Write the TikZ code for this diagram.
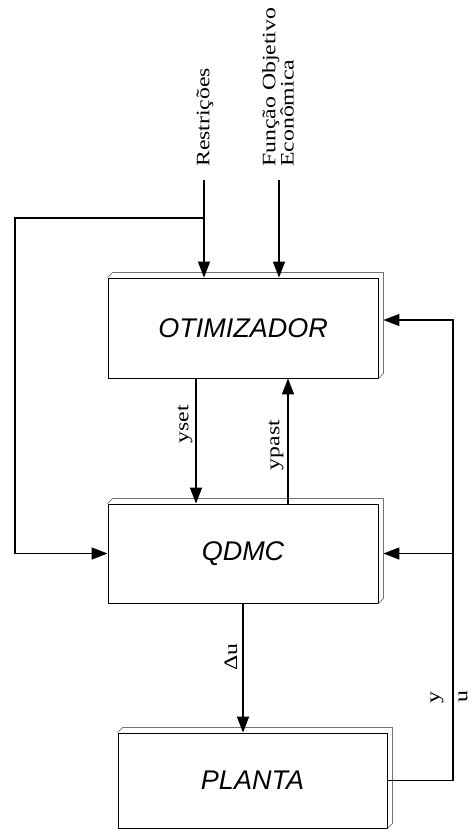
\documentclass[tikz,border=0pt]{standalone}
\usepackage{fontspec}
\setmainfont{Liberation Serif}
\newfontfamily\boxfont{Liberation Sans}
\usetikzlibrary{arrows.meta}

\begin{document}
\begin{tikzpicture}[x=1pt,y=-1pt,>={Triangle[length=16pt,width=12pt]},
    block/.style={draw,line width=0.9pt,inner sep=0,font=\boxfont\itshape\fontsize{27}{30}\selectfont},
    edge3d/.style={draw=black!55,line width=0.8pt},
    flow/.style={line width=1.6pt},
    lbl/.style={rotate=90,xscale=1.25,inner sep=0,font=\fontsize{19}{15}\selectfont}]
    \useasboundingbox (0,0) rectangle (473,832);
    % blocos
    \node[block,minimum width=270pt,minimum height=100pt] (otim) at (243,328) {OTIMIZADOR};
    \node[block,minimum width=270pt,minimum height=99pt] (qdmc) at (243,553.5) {QDMC};
    \node[block,minimum width=269pt,minimum height=95pt] (planta) at (252.5,780.5) {PLANTA};
    \foreach \b in {otim,qdmc,planta}
      \draw[edge3d] (\b.north west) -- ++(5,-5) -- ([shift={(5,-5)}]\b.north east)
        -- ([shift={(5,-5)}]\b.south east) -- (\b.south east);
    % entradas
    \node[lbl,anchor=west] (restr) at (205,167) {Restrições};
    \node[lbl,anchor=west,align=left] (func) at (278,167) {Função Objetivo\\Econômica};
    \coordinate (rtop) at (204,180);
    \coordinate (ftop) at (279,180);
    \coordinate (lp) at (15,218);
    \coordinate (ytop) at (453,320);
    \coordinate (oe) at ([xshift=5pt]otim.east);
    \coordinate (qe) at ([xshift=5pt]qdmc.east);
    % ligacoes
    \draw[flow,->] (rtop) -- (rtop |- otim.north);
    \draw[flow,->] (ftop) -- (ftop |- otim.north);
    \draw[flow,->] (rtop |- lp) -- (lp) |- (qdmc.west);
    \draw[flow,->] ([xshift=-47pt]otim.south) -- ([xshift=-47pt]qdmc.north);
    \draw[flow,<-] ([xshift=45pt]otim.south) -- ([xshift=45pt]qdmc.north);
    \draw[flow,->] (qdmc.south) -- (qdmc.south |- planta.north);
    \draw[flow,->] (planta.east) -| (ytop) -- (oe |- ytop);
    \draw[flow,->] (ytop |- qe) -- (qe);
    % rotulos
    \node[lbl] (lyset) at (185,424) {yset};
    \node[lbl] (lypast) at (276,445) {ypast};
    \node[lbl] (ldu) at (231,657) {Δu};
    \node[lbl] (ly) at (437,698) {y};
    \node[lbl] (lu) at (463,697) {u};
\end{tikzpicture}
\end{document}
